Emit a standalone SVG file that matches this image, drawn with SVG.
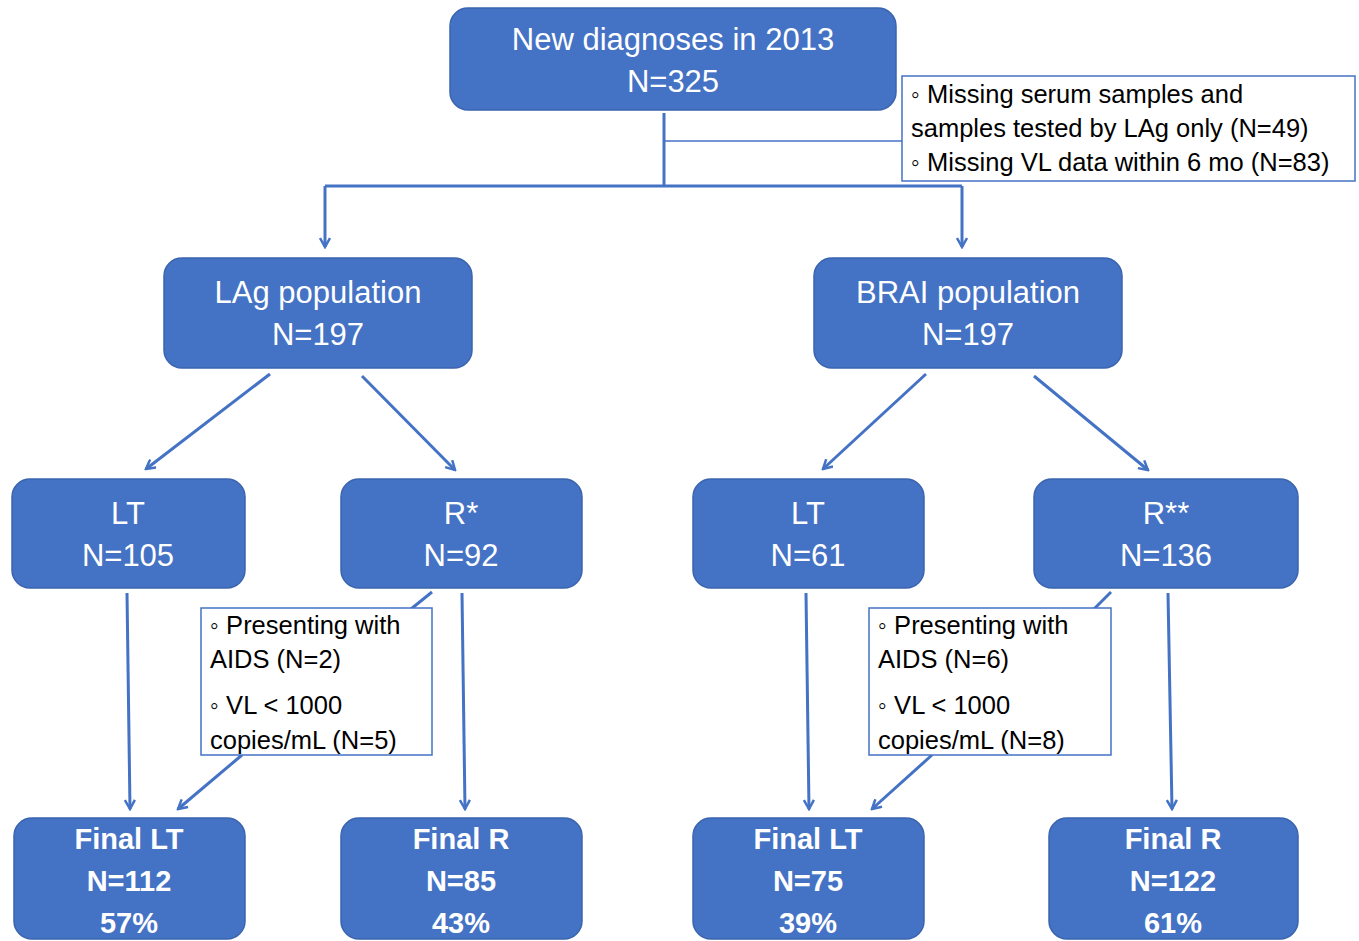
<svg xmlns="http://www.w3.org/2000/svg" width="1359" height="941" viewBox="0 0 1359 941">
<style>
.box{fill:#4472C4;stroke:#3A64AE;stroke-width:1.5}
.note{fill:#fff;stroke:#4472C4;stroke-width:1.5}
.t{font-family:"Liberation Sans",Arial,sans-serif;fill:#fff;font-size:31px;text-anchor:middle}
.b{font-weight:bold;font-size:29px}
.n{font-family:"Liberation Sans",Arial,sans-serif;fill:#000;font-size:25.5px}
.c{fill:none;stroke:#4472C4;stroke-width:3}
.thin{fill:none;stroke:#4472C4;stroke-width:1.5}
</style>
<defs>
<marker id="ah" viewBox="0 0 12 12" refX="10" refY="6" markerWidth="12" markerHeight="12" markerUnits="userSpaceOnUse" orient="auto">
<path d="M1,1 L10,6 L1,11" fill="none" stroke="#4472C4" stroke-width="2.5"/>
</marker>
</defs>
<g id="connectors">
<path class="c" d="M664,113 V186"/>
<path class="thin" d="M664,141 H902"/>
<path class="c" d="M325,186 H962"/>
<path class="c" d="M325,186 V247" marker-end="url(#ah)"/>
<path class="c" d="M962,186 V247" marker-end="url(#ah)"/>
<path class="c" d="M270,374 L146,469" marker-end="url(#ah)"/>
<path class="c" d="M362,376 L455,470" marker-end="url(#ah)"/>
<path class="c" d="M926,374 L823,469" marker-end="url(#ah)"/>
<path class="c" d="M1034,376 L1148,470" marker-end="url(#ah)"/>
<path class="c" d="M127,593 L130,809" marker-end="url(#ah)"/>
<path class="c" d="M462,593 L465,809" marker-end="url(#ah)"/>
<path class="c" d="M806,593 L809,809" marker-end="url(#ah)"/>
<path class="c" d="M1168,593 L1172,809" marker-end="url(#ah)"/>
<path class="c" d="M432,592 L411,609"/>
<path class="c" d="M1111,592 L1094,609"/>
<path class="c" d="M242,755 L178,809" marker-end="url(#ah)"/>
<path class="c" d="M932,755 L872,809" marker-end="url(#ah)"/>
</g>
<g id="n_top">
<rect class="box" x="450" y="8" width="446" height="102" rx="18"/>
<text class="t" x="673" y="50">New diagnoses in 2013</text>
<text class="t" x="673" y="92">N=325</text>
</g>
<g id="n_excl">
<rect class="note" x="902" y="76" width="453" height="105"/>
<text class="n" x="911" y="103">◦ Missing serum samples and</text>
<text class="n" x="911" y="137">samples tested by LAg only (N=49)</text>
<text class="n" x="911" y="171">◦ Missing VL data within 6 mo (N=83)</text>
</g>
<g id="n_lag">
<rect class="box" x="164" y="258" width="308" height="110" rx="18"/>
<text class="t" x="318" y="303">LAg population</text>
<text class="t" x="318" y="345">N=197</text>
</g>
<g id="n_brai">
<rect class="box" x="814" y="258" width="308" height="110" rx="18"/>
<text class="t" x="968" y="303">BRAI population</text>
<text class="t" x="968" y="345">N=197</text>
</g>
<g id="n_lt1">
<rect class="box" x="12" y="479" width="233" height="109" rx="18"/>
<text class="t" x="128" y="524">LT</text>
<text class="t" x="128" y="566">N=105</text>
</g>
<g id="n_r1">
<rect class="box" x="341" y="479" width="241" height="109" rx="18"/>
<text class="t" x="461" y="524">R*</text>
<text class="t" x="461" y="566">N=92</text>
</g>
<g id="n_lt2">
<rect class="box" x="693" y="479" width="231" height="109" rx="18"/>
<text class="t" x="808" y="524">LT</text>
<text class="t" x="808" y="566">N=61</text>
</g>
<g id="n_r2">
<rect class="box" x="1034" y="479" width="264" height="109" rx="18"/>
<text class="t" x="1166" y="524">R**</text>
<text class="t" x="1166" y="566">N=136</text>
</g>
<g id="n_note1">
<rect class="note" x="201" y="608" width="231" height="147"/>
<text class="n" x="210" y="634">◦ Presenting with</text>
<text class="n" x="210" y="668">AIDS (N=2)</text>
<text class="n" x="210" y="714">◦ VL &lt; 1000</text>
<text class="n" x="210" y="749">copies/mL (N=5)</text>
</g>
<g id="n_note2">
<rect class="note" x="869" y="608" width="242" height="147"/>
<text class="n" x="878" y="634">◦ Presenting with</text>
<text class="n" x="878" y="668">AIDS (N=6)</text>
<text class="n" x="878" y="714">◦ VL &lt; 1000</text>
<text class="n" x="878" y="749">copies/mL (N=8)</text>
</g>
<g id="n_flt1">
<rect class="box" x="14" y="818" width="231" height="121" rx="18"/>
<text class="t b" x="129" y="849">Final LT</text>
<text class="t b" x="129" y="891">N=112</text>
<text class="t b" x="129" y="933">57%</text>
</g>
<g id="n_fr1">
<rect class="box" x="341" y="818" width="241" height="121" rx="18"/>
<text class="t b" x="461" y="849">Final R</text>
<text class="t b" x="461" y="891">N=85</text>
<text class="t b" x="461" y="933">43%</text>
</g>
<g id="n_flt2">
<rect class="box" x="693" y="818" width="231" height="121" rx="18"/>
<text class="t b" x="808" y="849">Final LT</text>
<text class="t b" x="808" y="891">N=75</text>
<text class="t b" x="808" y="933">39%</text>
</g>
<g id="n_fr2">
<rect class="box" x="1049" y="818" width="249" height="121" rx="18"/>
<text class="t b" x="1173" y="849">Final R</text>
<text class="t b" x="1173" y="891">N=122</text>
<text class="t b" x="1173" y="933">61%</text>
</g>
</svg>
